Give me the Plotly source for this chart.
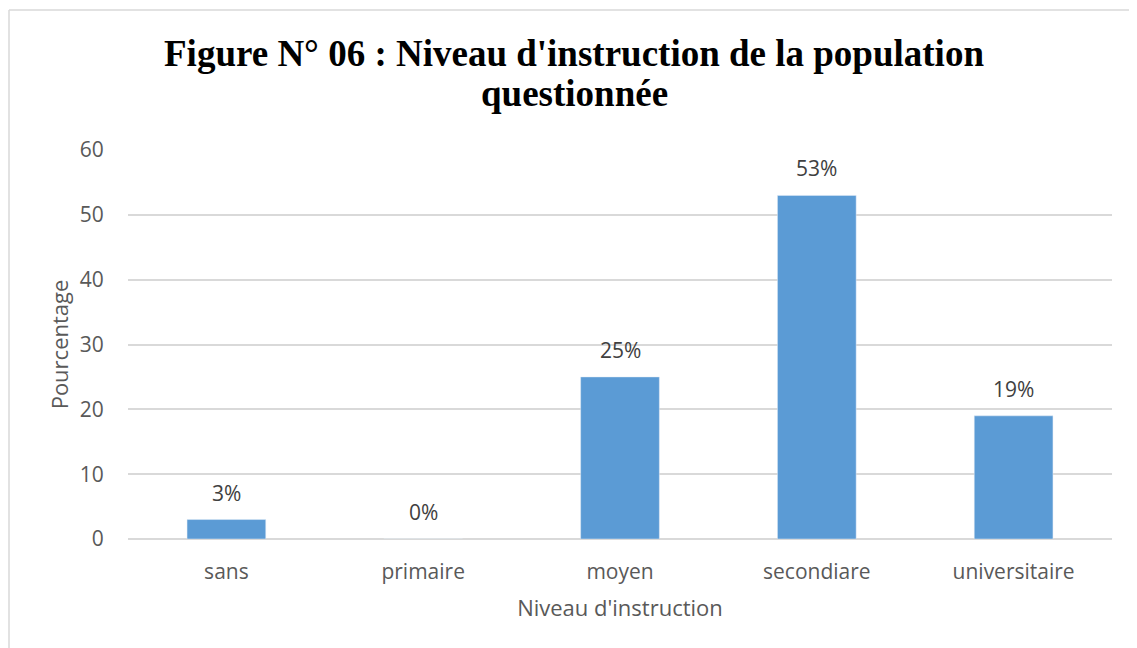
import plotly.graph_objects as go

categories = ["sans", "primaire", "moyen", "secondiare", "universitaire"]
values = [3, 0, 25, 53, 19]
labels = ["3%", "0%", "25%", "53%", "19%"]
yticks = [0, 10, 20, 30, 40, 50, 60]
title_lines = ["Figure N° 06 : Niveau d'instruction de la population", "questionnée"]

OFF = 8  # default page body margin
W, H = 1137, 648
L, R, T, B = 128 - OFF, 25 + OFF, 150 - OFF, 109 + OFF
pw, ph = W - L - R, H - T - B

def px_x(px):
    return (px - OFF - L) / pw

def px_y(py):
    return (H - B - (py - OFF)) / ph

fig = go.Figure(go.Bar(
    x=categories, y=values,
    marker=dict(color="#5B9BD5"),
))

annotations = []
for c, v, t in zip(categories, values, labels):
    annotations.append(dict(
        x=c, y=v, xref="x", yref="y", text=t, showarrow=False,
        yanchor="bottom", yshift=11,
        font=dict(family="Open Sans", size=21, color="#404040"),
    ))
for line, py in zip(title_lines, [53, 94]):
    annotations.append(dict(
        x=px_x(574), y=px_y(py), xref="paper", yref="paper", text=line,
        showarrow=False, xanchor="center", yanchor="middle",
        font=dict(family="Liberation Serif", size=37, color="black", weight="bold"),
    ))

border = dict(color="#d9d9d9", width=1.5)
fig.update_layout(
    width=W, height=H,
    margin=dict(l=L, r=R, t=T, b=B),
    paper_bgcolor="white", plot_bgcolor="white",
    bargap=0.6,
    showlegend=False,
    annotations=annotations,
    xaxis=dict(
        title=dict(text="Niveau d'instruction", font=dict(family="Open Sans", size=22, color="#595959"), standoff=16),
        tickfont=dict(family="Open Sans", size=21, color="#595959"),
        showline=False, ticks="outside", tickcolor="rgba(0,0,0,0)", ticklen=14,
    ),
    yaxis=dict(
        title=dict(text="Pourcentage", font=dict(family="Open Sans", size=22, color="#595959"), standoff=5),
        tickfont=dict(family="Open Sans", size=21, color="#595959"),
        tickvals=yticks, range=[0, 60],
        gridcolor="#d9d9d9", gridwidth=1.5,
        zeroline=True, zerolinecolor="#d9d9d9", zerolinewidth=1.5,
        ticks="outside", tickcolor="rgba(0,0,0,0)", ticklen=19,
    ),
    shapes=[
        dict(type="line", xref="paper", yref="paper",
             x0=px_x(9), x1=px_x(9), y0=px_y(700), y1=px_y(10), line=border, layer="below"),
        dict(type="line", xref="paper", yref="paper",
             x0=px_x(9), x1=px_x(1300), y0=px_y(10), y1=px_y(10), line=border, layer="below"),
    ],
)

fig.write_html("out.html")
